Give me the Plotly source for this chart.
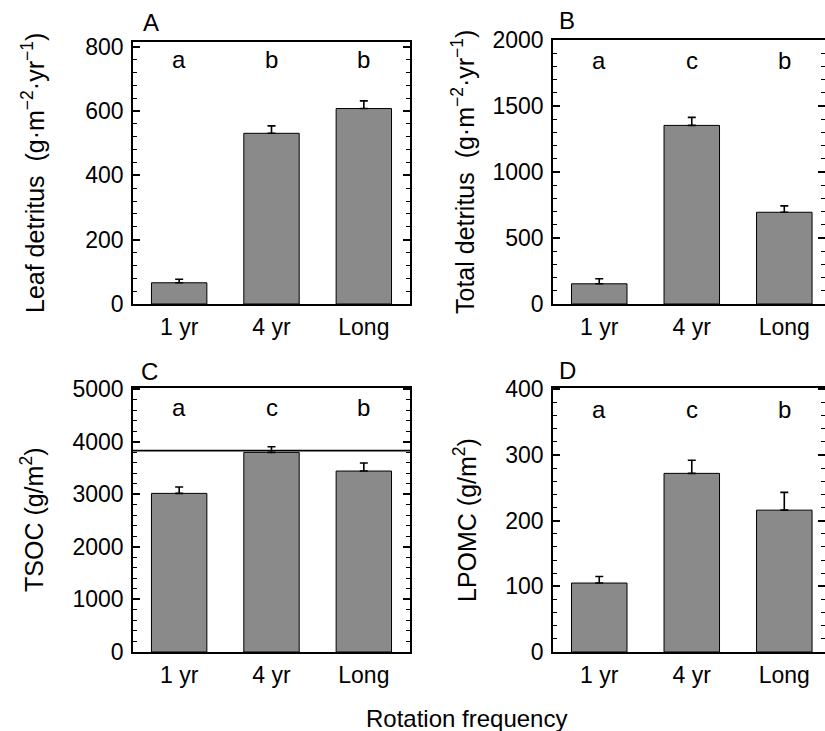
import plotly.graph_objects as go

categories = ["1 yr", "4 yr", "Long"]

leaf_vals = [66, 531, 608]
leaf_err = [11, 23, 24]
leaf_letters = ["a", "b", "b"]

total_vals = [153, 1353, 695]
total_err = [38, 61, 48]
total_letters = ["a", "c", "b"]

tsoc_vals = [3016, 3796, 3441]
tsoc_err = [121, 108, 152]
tsoc_letters = ["a", "c", "b"]
tsoc_line = 3830

lpomc_vals = [105, 272, 216]
lpomc_err = [10, 20, 27]
lpomc_letters = ["a", "c", "b"]

FONT = "Liberation Sans, Arial, Helvetica, sans-serif"
BAR = "#8a8a8a"
W, H = 825, 731

panels = [
    dict(vals=leaf_vals, err=leaf_err, letters=leaf_letters, letter_y=760,
         yr=[0, 815], dtick=200, minor=40, xd=[133, 410], yd=[42, 304], xr=[-0.5, 2.5],
         title="Leaf detritus  (g·m<sup>−2</sup>·yr<sup>−1</sup>)", tx=33, label="A", lx=141, ly=22),
    dict(vals=total_vals, err=total_err, letters=total_letters, letter_y=1845,
         yr=[0, 2000], dtick=500, minor=100, xd=[553, 825], yd=[40, 304], xr=[-0.5, 2.44],
         title="Total detritus  (g·m<sup>−2</sup>·yr<sup>−1</sup>)", tx=463, label="B", lx=557, ly=21),
    dict(vals=tsoc_vals, err=tsoc_err, letters=tsoc_letters, letter_y=4640,
         yr=[0, 5020], dtick=1000, minor=200, xd=[133, 410], yd=[388, 652], xr=[-0.5, 2.5],
         title="TSOC (g/m<sup>2</sup>)", tx=32, label="C", lx=139, ly=371),
    dict(vals=lpomc_vals, err=lpomc_err, letters=lpomc_letters, letter_y=370,
         yr=[0, 402], dtick=100, minor=20, xd=[553, 825], yd=[388, 652], xr=[-0.5, 2.44],
         title="LPOMC (g/m<sup>2</sup>)", tx=465, label="D", lx=557, ly=370),
]

fig = go.Figure()
annotations = []
shapes = []
xs = list(range(len(categories)))

for i, p in enumerate(panels, start=1):
    sfx = "" if i == 1 else str(i)
    fig.add_trace(go.Bar(
        x=xs, y=p["vals"], width=0.6,
        marker=dict(color=BAR, line=dict(color="black", width=1)),
        error_y=dict(type="data", symmetric=False, array=p["err"],
                     arrayminus=[0] * len(p["err"]), color="black",
                     thickness=1.6, width=4),
        xaxis="x" + sfx, yaxis="y" + sfx, showlegend=False,
    ))
    xdom = [p["xd"][0] / W, min(p["xd"][1] / W, 1.0)]
    ydom = [1 - p["yd"][1] / H, 1 - p["yd"][0] / H]
    fig.update_layout(**{
        "xaxis" + sfx: dict(domain=xdom, range=p["xr"], tickvals=xs, ticktext=categories,
                            showline=True, linecolor="black", linewidth=1.6, mirror=True,
                            ticks="", ticklen=0, showgrid=False, zeroline=False,
                            anchor="y" + sfx, automargin=False,
                            tickfont=dict(family=FONT, size=23, color="black"),
                            ticklabelstandoff=2),
        "yaxis" + sfx: dict(domain=ydom, range=p["yr"], dtick=p["dtick"], tick0=0,
                            showline=True, linecolor="black", linewidth=1.6, mirror="ticks",
                            ticks="inside", ticklen=7, tickwidth=1.6, tickcolor="black",
                            minor=dict(dtick=p["minor"], ticks="inside", ticklen=4,
                                       tickwidth=1.3, tickcolor="black", showgrid=False),
                            showgrid=False, zeroline=False, anchor="x" + sfx,
                            automargin=False,
                            tickfont=dict(family=FONT, size=23, color="black"),
                            ticklabelstandoff=3),
    })
    for xi, lt in zip(xs, p["letters"]):
        annotations.append(dict(x=xi, y=p["letter_y"], xref="x" + sfx, yref="y" + sfx,
                                text=lt, showarrow=False,
                                font=dict(family=FONT, size=24, color="black")))
    annotations.append(dict(x=p["tx"] / W, y=1 - (p["yd"][0] + p["yd"][1]) / 2 / H,
                            xref="paper", yref="paper", text=p["title"], textangle=-90,
                            showarrow=False, xanchor="center", yanchor="middle",
                            font=dict(family=FONT, size=25, color="black")))
    annotations.append(dict(x=p["lx"] / W, y=1 - p["ly"] / H, xref="paper", yref="paper",
                            text=p["label"], showarrow=False, xanchor="left", yanchor="middle",
                            font=dict(family=FONT, size=24, color="black")))

shapes.append(dict(type="line", xref="x3 domain", yref="y3", x0=0, x1=1,
                   y0=tsoc_line, y1=tsoc_line, line=dict(color="black", width=1.6)))

annotations.append(dict(x=466 / W, y=1 - 718 / H, xref="paper", yref="paper",
                        text="Rotation frequency", showarrow=False,
                        xanchor="center", yanchor="middle",
                        font=dict(family=FONT, size=24, color="black")))

fig.update_layout(width=W, height=H, margin=dict(l=0, r=0, t=0, b=0, autoexpand=False),
                  template="none",
                  paper_bgcolor="white", plot_bgcolor="white",
                  annotations=annotations, shapes=shapes, bargap=0.4)

fig.write_html("out.html", config={"displayModeBar": False},
               post_script="document.body.style.margin='0px';"
                           "document.body.style.overflow='hidden';")
